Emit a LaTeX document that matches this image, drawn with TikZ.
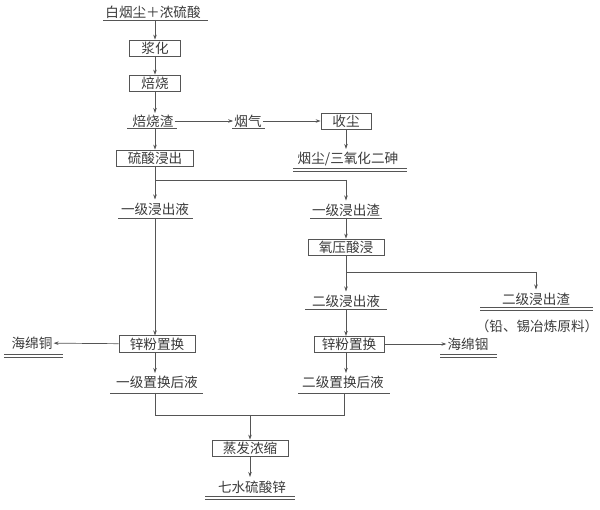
\documentclass[tikz,border=0pt]{standalone}
\usepackage{fontspec}
\newfontfamily\cjk{Noto Sans CJK SC}
\usetikzlibrary{arrows.meta}
\definecolor{txtc}{HTML}{3A3A3A}
\definecolor{linec}{HTML}{555555}
\tikzset{
  every node/.style={font=\cjk\fontsize{13.6}{13.6}\selectfont, text=txtc},
  box/.style={draw=linec, line width=0.8pt, minimum height=16pt, inner sep=0pt},
  lbl/.style={inner xsep=1pt, inner ysep=3pt},
  ln/.style={draw=linec, line width=0.7pt},
  arr/.style={ln, -{Stealth[length=5pt,width=3.5pt]}},
  ul/.style={draw=linec, line width=0.6pt}
}
\begin{document}
\begin{tikzpicture}[x=1pt,y=-1pt]
\useasboundingbox (0,0) rectangle (600,510);
% nodes
\node[lbl] (t0) at (153,12) {白烟尘＋浓硫酸};
\node[box, minimum width=51pt] (b1) at (155,48) {浆化};
\node[box, minimum width=51pt] (b2) at (155,83) {焙烧};
\node[lbl] (t3) at (153,121) {焙烧渣};
\node[box, minimum width=77pt] (b4) at (155,158) {硫酸浸出};
\node[lbl] (t5) at (248,121) {烟气};
\node[box, minimum width=50pt] (b6) at (346,121) {收尘};
\node[lbl] (t7) at (348,159) {烟尘/三氧化二砷};
\node[lbl] (t8) at (155,209) {一级浸出液};
\node[lbl] (t9) at (346,210) {一级浸出渣};
\node[box, minimum width=76pt] (b10) at (346,247) {氧压酸浸};
\node[lbl] (t11) at (346,301) {二级浸出液};
\node[lbl] (t12) at (536,299) {二级浸出渣};
\node[lbl] (t13) at (537,326) {（铅、锡冶炼原料）};
\node[box, minimum width=76pt, minimum height=17pt] (b14) at (157,344) {锌粉置换};
\node[box, minimum width=70pt] (b15) at (349,344) {锌粉置换};
\node[lbl] (t16) at (32,343) {海绵铜};
\node[lbl] (t17) at (468,344) {海绵铟};
\node[lbl] (t18) at (157,382) {一级置换后液};
\node[lbl] (t19) at (343,382) {二级置换后液};
\node[box, minimum width=76pt] (b20) at (250,448) {蒸发浓缩};
\node[lbl] (t21) at (252,487) {七水硫酸锌};
% junction coordinates
\coordinate (j1) at (155,180);
\coordinate (j2) at (346,180);
\coordinate (j3) at (346,272);
\coordinate (j4) at (536,272);
\coordinate (j5) at (155,415);
\coordinate (j6) at (344,415);
\coordinate (j7) at (250,415);
% underlines
\draw[ul] (103,20) -- (208,20);
\draw[ul] (127,128) -- (177,128);
\draw[ul] (232,128) -- (265,128);
\draw[ul] (293,168) -- (407,168); \draw[ul] (293,171) -- (407,171);
\draw[ul] (118,218) -- (193,218);
\draw[ul] (310,218) -- (382,218);
\draw[ul] (305,309) -- (387,309);
\draw[ul] (480,307.5) -- (593,307.5); \draw[ul] (480,310.5) -- (593,310.5);
\draw[ul] (4,354) -- (63,354); \draw[ul] (4,357) -- (63,357);
\draw[ul] (440,354) -- (497,354); \draw[ul] (440,357) -- (497,357);
\draw[ul] (110,393) -- (203,393);
\draw[ul] (298,393) -- (390,393);
\draw[ul] (205,496) -- (295,496); \draw[ul] (205,499) -- (295,499);
% connectors
\draw[arr] (155,20) -- (b1.north);
\draw[arr] (b1) -- (b2);
\draw[arr] (b2.south) -- (155,113);
\draw[arr] (155,128) -- (b4.north);
\draw[arr] (t3) -- (t5);
\draw[arr] (t5) -- (b6);
\draw[arr] (b6.south) -- (346,149);
\draw[ln] (b4.south) -- (j1);
\draw[arr] (j1) -- (t8.north);
\draw[ln] (j1) -- (j2);
\draw[arr] (j2) -- (t9.north);
\draw[arr] (346,218) -- (b10.north);
\draw[ln] (b10.south) -- (j3);
\draw[arr] (j3) -- (t11.north);
\draw[ln] (j3) -- (j4);
\draw[arr] (j4) -- (t12.north);
\draw[arr] (155,218) -- (155,335.5);
\draw[arr] (b14) -- (t16);
\draw[arr] (155,352.5) -- (155,373);
\draw[arr] (346,309) -- (346,336);
\draw[arr] (b15) -- (t17);
\draw[arr] (346,352) -- (346,373);
\draw[ln] (155,393) -- (j5) -- (j6) -- (344,393);
\draw[arr] (j7) -- (b20.north);
\draw[arr] (b20.south) -- (250,477);
\end{tikzpicture}
\end{document}
